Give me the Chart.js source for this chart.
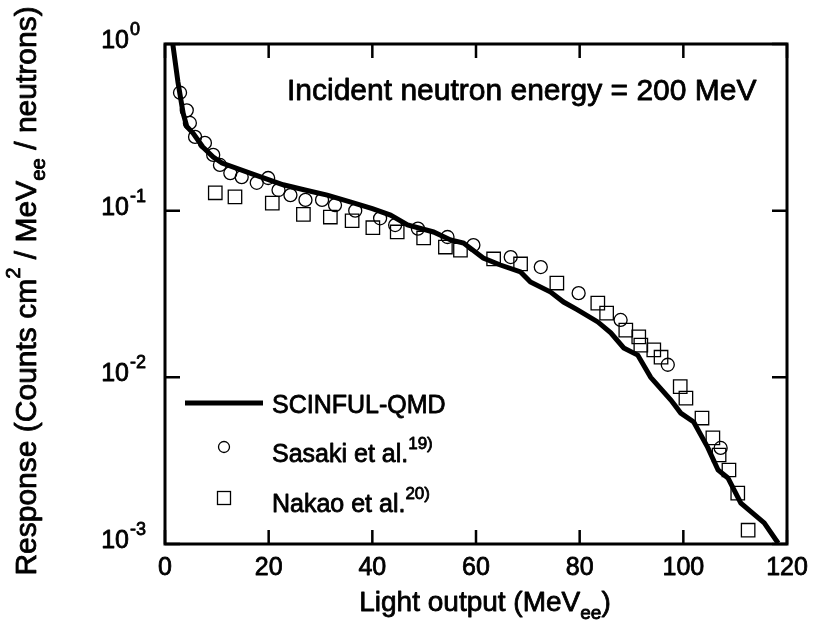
<!DOCTYPE html>
<html>
<head>
<meta charset="utf-8">
<script src="https://cdn.jsdelivr.net/npm/chart.js@4.4.1/dist/chart.umd.min.js"></script>
<style>
  html, body { margin: 0; padding: 0; background: #fff; }
  canvas { display: block; }
</style>
</head>
<body>
<canvas id="responseChart" width="818" height="638"></canvas>
<script>
// SCINFUL-QMD calculation (solid line)
const qmdX = [1.5, 2.5, 3.5, 4.2, 5.4, 7.3, 9.3, 11, 16.4, 22.8, 27, 31.3, 35.7, 40, 43.5, 46.8,
              51.8, 55.1, 57.6, 61.4, 64.7, 68.6, 70.5, 74.4, 76.9, 79.6, 83.5, 86, 88.5, 91.2,
              93.7, 97.6, 99.5, 102, 104.7, 106.7, 108.6, 111.1, 115.6, 118.3];
const qmdY = [1.0, 0.59, 0.385, 0.32, 0.292, 0.241, 0.21, 0.193, 0.168, 0.143, 0.133, 0.124, 0.113, 0.103, 0.094, 0.082,
              0.0745, 0.0667, 0.064, 0.052, 0.0472, 0.0429, 0.0373, 0.0325, 0.0283, 0.0254, 0.0215, 0.0185, 0.015, 0.0136,
              0.01, 0.0073, 0.0061, 0.0054, 0.0038, 0.00278, 0.00249, 0.00176, 0.00134, 0.00101];

// Sasaki et al. (circles)
const sasakiX = [2.9, 4.2, 4.8, 5.8, 7.7, 9.3, 10.6, 12.6, 14.8, 17.7, 19.9, 21.9, 24.2, 27.1, 30.3, 32.8,
                 36.7, 41.5, 44.4, 48.8, 54.5, 59.5, 66.7, 72.5, 79.8, 87.9, 97, 107.2];
const sasakiY = [0.51, 0.40, 0.336, 0.277, 0.255, 0.216, 0.188, 0.168, 0.159, 0.147, 0.157, 0.133, 0.124, 0.116, 0.116, 0.108,
                 0.100, 0.090, 0.082, 0.078, 0.0695, 0.0622, 0.0527, 0.0459, 0.032, 0.0221, 0.0119, 0.00377];

// Nakao et al. (squares)
const nakaoX = [9.7, 13.5, 20.7, 26.7, 31.9, 36.1, 40.1, 44.8, 49.9, 54.1, 57, 63.4, 68.6, 75.6, 83.5,
                85.2, 88.9, 91.4, 91.8, 94.3, 95.7, 99.4, 100.5, 103.6, 105.7, 106.9, 108.8, 110.5, 112.5];
const nakaoY = [0.128, 0.121, 0.111, 0.095, 0.0916, 0.087, 0.079, 0.0745, 0.0686, 0.0605, 0.058, 0.0513, 0.0479, 0.0368, 0.0279,
                0.0243, 0.0192, 0.0175, 0.0156, 0.0146, 0.0132, 0.0088, 0.0075, 0.0057, 0.00433, 0.00342, 0.00278, 0.00202, 0.00121];

// axis ticks
const xTicks = [0, 20, 40, 60, 80, 100, 120];
const yTickExps = [0, -1, -2, -3];

const FONT = '"Liberation Sans", Arial, Helvetica, sans-serif';

function toPoints(xs, ys) {
    return xs.map((x, i) => ({ x: x, y: ys[i] }));
}

// scanned print looks heavier than plain regular weight
function heavyText(ctx, t, x, y) {
    ctx.save();
    ctx.lineWidth = 0.8;
    ctx.lineJoin = 'round';
    ctx.fillText(t, x, y);
    ctx.strokeText(t, x, y);
    ctx.restore();
}

// draws text pieces with super/subscripts, left aligned at baseline y; returns width
function drawRich(ctx, parts, x, y, size, measureOnly) {
    let cx = x;
    parts.forEach(p => {
        let fs = size, dy = 0;
        if (p.mode === 'sup') { fs = size * 0.68; dy = -size * 0.52; }
        if (p.mode === 'sub') { fs = size * 0.68; dy = size * 0.3; }
        ctx.font = fs + 'px ' + FONT;
        if (!measureOnly) heavyText(ctx, p.t, cx, y + dy);
        cx += ctx.measureText(p.t).width;
    });
    return cx - x;
}

const framePlugin = {
    id: 'frame',
    afterDraw(chart) {
        const ctx = chart.ctx;
        const a = chart.chartArea;
        const xs = chart.scales.x, ys = chart.scales.y;

        ctx.save();
        ctx.strokeStyle = '#000';
        ctx.fillStyle = '#000';
        ctx.textAlign = 'left';
        ctx.textBaseline = 'alphabetic';

        // box
        ctx.lineWidth = 3;
        ctx.strokeRect(a.left, a.top, a.right - a.left, a.bottom - a.top);

        // inward ticks
        ctx.lineWidth = 2.5;
        ctx.beginPath();
        xTicks.forEach(v => {
            const px = xs.getPixelForValue(v);
            ctx.moveTo(px, a.bottom); ctx.lineTo(px, a.bottom - 14);
            ctx.moveTo(px, a.top); ctx.lineTo(px, a.top + 14);
        });
        yTickExps.forEach(e => {
            const py = ys.getPixelForValue(Math.pow(10, e));
            ctx.moveTo(a.left, py); ctx.lineTo(a.left + 15, py);
            ctx.moveTo(a.right, py); ctx.lineTo(a.right - 15, py);
        });
        ctx.stroke();

        // x tick labels
        ctx.font = '25px ' + FONT;
        ctx.textAlign = 'center';
        xTicks.forEach(v => {
            heavyText(ctx, String(v), xs.getPixelForValue(v), a.bottom + 31);
        });

        // y tick labels 10^n
        yTickExps.forEach(e => {
            const py = ys.getPixelForValue(Math.pow(10, e)) + 4;
            ctx.font = '25px ' + FONT;
            ctx.textAlign = 'right';
            heavyText(ctx, '10', a.left - 36, py);
            ctx.font = '18px ' + FONT;
            ctx.textAlign = 'left';
            heavyText(ctx, String(e), a.left - 35, py - 13);
        });
        ctx.textAlign = 'left';

        // x axis title
        const xTitle = [{ t: 'Light output (MeV' }, { t: 'ee', mode: 'sub' }, { t: ')' }];
        const xw = drawRich(ctx, xTitle, 0, 0, 28, true);
        drawRich(ctx, xTitle, 485 - xw / 2, 611, 28);

        // y axis title
        const yTitle = [{ t: 'Response (Counts cm' }, { t: '2', mode: 'sup' }, { t: ' / MeV' },
                        { t: 'ee', mode: 'sub' }, { t: ' / neutrons)' }];
        const yw = drawRich(ctx, yTitle, 0, 0, 30, true);
        ctx.save();
        ctx.translate(36, 291);
        ctx.rotate(-Math.PI / 2);
        drawRich(ctx, yTitle, -yw / 2, 0, 30);
        ctx.restore();

        // annotation
        ctx.font = '30px ' + FONT;
        heavyText(ctx, 'Incident neutron energy = 200 MeV', 287, 100);

        // legend
        ctx.lineWidth = 5;
        ctx.beginPath();
        ctx.moveTo(185, 403); ctx.lineTo(263, 403);
        ctx.stroke();
        drawRich(ctx, [{ t: 'SCINFUL-QMD' }], 272, 413, 25);

        ctx.lineWidth = 1.3;
        ctx.beginPath();
        ctx.arc(224, 447, 5.5, 0, Math.PI * 2);
        ctx.stroke();
        drawRich(ctx, [{ t: 'Sasaki et al.' }, { t: '19)', mode: 'sup' }], 272, 462, 25);

        ctx.strokeRect(217.5, 491.5, 13, 13);
        drawRich(ctx, [{ t: 'Nakao et al.' }, { t: '20)', mode: 'sup' }], 272, 512, 25);

        ctx.restore();
    }
};

const ctx = document.getElementById('responseChart').getContext('2d');
const chart = new Chart(ctx, {
    type: 'scatter',
    data: {
        datasets: [
            {
                label: 'SCINFUL-QMD',
                data: toPoints(qmdX, qmdY),
                showLine: true,
                borderColor: '#000',
                borderWidth: 5,
                pointRadius: 0,
                tension: 0,
                fill: false
            },
            {
                label: 'Sasaki et al.',
                data: toPoints(sasakiX, sasakiY),
                pointStyle: 'circle',
                pointRadius: 6.5,
                borderColor: '#000',
                borderWidth: 1.3,
                backgroundColor: 'rgba(0,0,0,0)'
            },
            {
                label: 'Nakao et al.',
                data: toPoints(nakaoX, nakaoY),
                pointStyle: 'rect',
                pointRadius: 9.5,
                borderColor: '#000',
                borderWidth: 1.3,
                backgroundColor: 'rgba(0,0,0,0)'
            }
        ]
    },
    options: {
        responsive: false,
        animation: false,
        devicePixelRatio: 1,
        layout: { padding: { left: 165, right: 31, top: 44, bottom: 94 } },
        plugins: {
            legend: { display: false },
            tooltip: { enabled: false }
        },
        scales: {
            x: { type: 'linear', min: 0, max: 120, display: false },
            y: { type: 'logarithmic', min: 0.001, max: 1, display: false }
        }
    },
    plugins: [framePlugin]
});
</script>
</body>
</html>
